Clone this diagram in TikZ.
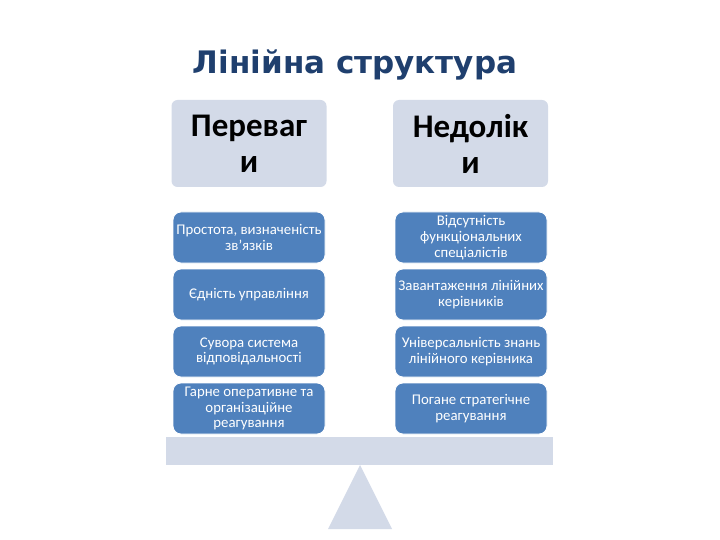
\documentclass[tikz,border=0pt]{standalone}
\usepackage{fontspec}
\setmainfont{Carlito}
\newfontfamily\titlefont{DejaVu Sans}
\definecolor{titleblue}{HTML}{1F3F6E}
\definecolor{boxblue}{HTML}{4F81BD}
\definecolor{lightfill}{HTML}{D3DAE8}
\begin{document}
\begin{tikzpicture}[x=1pt,y=-1pt,
  header/.style={fill=lightfill, draw=none, rounded corners=6pt, minimum width=155pt, minimum height=87pt, inner sep=0pt, align=center, font=\fontsize{33}{36}\selectfont\bfseries, text=black},
  item/.style={fill=boxblue, draw=white, line width=0.8pt, rounded corners=8pt, minimum width=152pt, minimum height=51pt, inner sep=0pt, align=center, font=\fontsize{14.8}{15.8}\selectfont, text=white},
  scalepart/.style={fill=lightfill, draw=none}]
\useasboundingbox (0,0) rectangle (720,540);
\node[font=\titlefont\fontsize{31}{34}\selectfont\bfseries, text=titleblue] (title) at (355,64.5) {Лінійна структура};
\node[header] (hl) at (249,143.5) {Переваг\\и};
\node[header] (hr) at (470.5,143.5) {Недолік\\и};
\node[item] (l1) at (249,237.5) {Простота, визначеність\\зв’язків};
\node[item] (l2) at (249,294.5) {Єдність управління};
\node[item] (l3) at (249,351.5) {Сувора система\\відповідальності};
\node[item] (l4) at (249,408.5) {Гарне оперативне та\\організаційне\\реагування};
\node[item] (r1) at (471,237.5) {Відсутність\\функціональних\\спеціалістів};
\node[item] (r2) at (471,294.5) {Завантаження лінійних\\керівників};
\node[item] (r3) at (471,351.5) {Універсальність знань\\лінійного керівника};
\node[item] (r4) at (471,408.5) {Погане стратегічне\\реагування};
\fill[scalepart] (166,437) rectangle (553,465);
\fill[scalepart] (360,465) -- (392,529) -- (328,529) -- cycle;
\end{tikzpicture}
\end{document}
